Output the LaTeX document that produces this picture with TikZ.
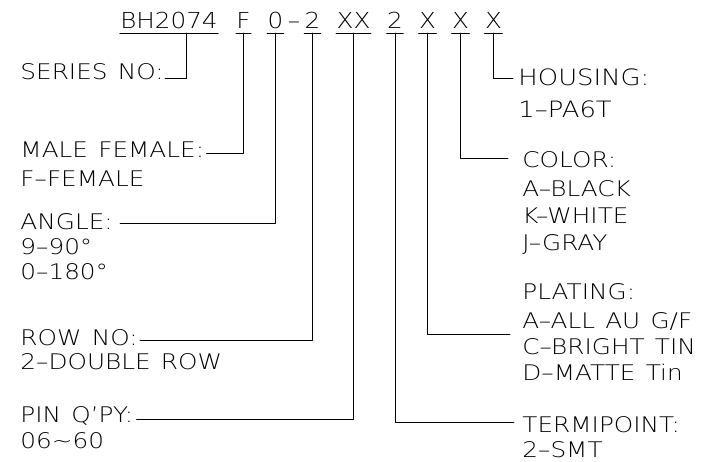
\documentclass[tikz,border=0pt]{standalone}
\usepackage{fontspec}
\IfFontExistsTF{DejaVu Sans ExtraLight}
	{\setmainfont{DejaVu Sans ExtraLight}[FakeStretch=1.15, WordSpace=1.3]
	 \newfontfamily\codefont{DejaVu Sans ExtraLight}[FakeStretch=1.12]}
	{\setmainfont{Liberation Sans}[FakeStretch=1.18]
	 \newfontfamily\codefont{Liberation Sans}[FakeStretch=1.18]}
\usetikzlibrary{positioning}
\tikzset{
  lbl/.style={anchor=base west, inner sep=0pt, font=\fontsize{21.5}{26}\selectfont},
  code/.style={anchor=base, inner sep=0pt, font=\codefont\fontsize{22}{27}\selectfont},
  big/.style={font=\fontsize{22.5}{27}\selectfont},
}
\begin{document}
\begin{tikzpicture}[x=1pt, y=-1pt, line width=0.9pt, line join=round, line cap=round]
	\useasboundingbox (0,0) rectangle (715,462);
	\def \hy{29}   % header baseline
	\def \uy{33}   % underline
	\def \lx{20}   % left column
	\def \rx{522}  % right column
	% header
	\node[code] (bh) at (169,\hy) {BH2074};
	\node[code] (f) at (243.5,\hy) {F};
	\node[code] (ang) at (275.5,\hy) {0};
	\node[code] (dash) at (294,\hy) {–};
	\node[code] (row) at (312.5,\hy) {2};
	\node[code] (pin) at (353.5,\hy) {XX};
	\node[code] (term) at (395,\hy) {2};
	\node[code] (plat) at (427.5,\hy) {X};
	\node[code] (col) at (460.5,\hy) {X};
	\node[code] (hous) at (493.5,\hy) {X};
	\foreach \n in {f,ang,row,pin,term,plat,col,hous}{
		\draw (\n.base west |- 0,\uy) -- (\n.base east |- 0,\uy);
		\coordinate (u\n) at (\n.base |- 0,\uy);
	}
	\draw (bh.base west |- 0,\uy) -- (bh.base east |- 0,\uy);
	\coordinate (ubh) at (186,\uy);
	% left column
	\node[lbl] (series) at (\lx,80) {SERIES NO:};
	\node[lbl] (sex) at (\lx,158) {MALE FEMALE:};
	\node[lbl] (sexa) at (\lx,187) {F–FEMALE};
	\node[lbl] (angle) at (\lx,230) {ANGLE:};
	\node[lbl] (anglea) at (\lx,255) {9–90°};
	\node[lbl] (angleb) at (\lx,280) {0–180°};
	\node[lbl] (rowno) at (\lx,345) {ROW NO:};
	\node[lbl] (rownoa) at (\lx,370) {2–DOUBLE ROW};
	\node[lbl] (pinq) at (\lx,422) {PIN Q’PY:};
	\node[lbl] (pinqa) at (\lx,448) {06\textasciitilde60};
	% right column
	\node[lbl, big] (housing) at (518,86) {HOUSING:};
	\node[lbl, big] (housinga) at (518,118) {1–PA6T};
	\node[lbl] (color) at (\rx,168) {COLOR:};
	\node[lbl] (colora) at (\rx,197) {A–BLACK};
	\node[lbl] (colorb) at (\rx,224) {K–WHITE};
	\node[lbl] (colorc) at (\rx,251) {J–GRAY};
	\node[lbl] (plating) at (\rx,300) {PLATING:};
	\node[lbl] (platinga) at (\rx,329) {A–ALL AU G/F};
	\node[lbl] (platingb) at (\rx,355) {C–BRIGHT TIN};
	\node[lbl] (platingc) at (\rx,381) {D–MATTE Tin};
	\node[lbl] (termi) at (\rx,432) {TERMIPOINT:};
	\node[lbl] (termia) at (\rx,457) {2–SMT};
	% leaders
	\draw (ubh) |- ([shift={(1pt,2pt)}]series.base east);
	\draw (uf) |- ([shift={(2pt,5pt)}]sex.base east);
	\draw (uang) |- ([shift={(7pt,7pt)}]angle.base east);
	\draw (urow) |- ([shift={(2pt,5pt)}]rowno.base east);
	\draw (upin) |- ([shift={(3pt,3pt)}]pinq.base east);
	\draw (uhous) |- ([shift={(-5pt,8pt)}]housing.base west);
	\draw (ucol) |- ([shift={(-14pt,10pt)}]color.base west);
	\draw (uplat) |- ([shift={(-12pt,-5pt)}]platinga.base west);
	\draw (uterm) |- ([shift={(-8pt,10pt)}]termi.base west);
\end{tikzpicture}
\end{document}
